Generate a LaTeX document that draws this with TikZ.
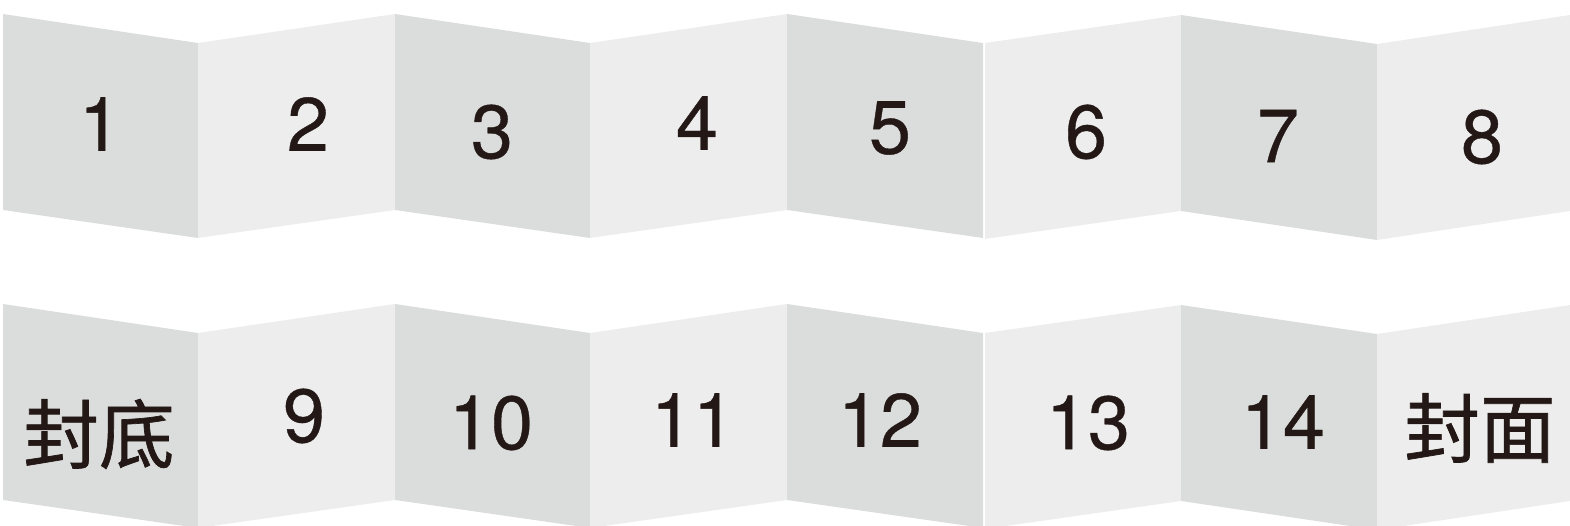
\documentclass[tikz,border=0pt]{standalone}
\usepackage{fontspec}
\setmainfont{TeX Gyre Heros}[FakeBold=0.5]
\newfontfamily\cjkfont{Noto Sans CJK SC}[FakeBold=0.9]
\usepackage{xcolor}
\definecolor{pagedark}{RGB}{219,221,220}
\definecolor{pagelight}{RGB}{237,237,237}
\definecolor{inkblack}{RGB}{35,24,21}
\tikzset{
  darkpage/.style={fill=pagedark, draw=none},
  lightpage/.style={fill=pagelight, draw=none},
  pagenum/.style={text=inkblack, inner sep=0pt, anchor=center,
                  font=\fontsize{43}{50}\selectfont}
}

\begin{document}
\begin{tikzpicture}[x=0.02cm, y=-0.02cm]
  \useasboundingbox (0,0) rectangle (1570,526);
  % upper strip
  \fill[darkpage]  (3,14)    -- (198,43)  -- (198,238)  -- (3,210)    -- cycle;
  \fill[lightpage] (198,43)  -- (395,14)  -- (395,210)  -- (198,238)  -- cycle;
  \fill[darkpage]  (395,14)  -- (590,43)  -- (590,238)  -- (395,210)  -- cycle;
  \fill[lightpage] (590,43)  -- (787,14)  -- (787,210)  -- (590,238)  -- cycle;
  \fill[darkpage]  (787,14)  -- (983,43)  -- (983,238)  -- (787,210)  -- cycle;
  \fill[lightpage] (985,43)  -- (1181,15) -- (1181,211) -- (985,239)  -- cycle;
  \fill[darkpage]  (1181,15) -- (1377,44) -- (1377,240) -- (1181,211) -- cycle;
  \fill[lightpage] (1377,44) -- (1570,15) -- (1570,211) -- (1377,240) -- cycle;
  % lower strip
  \fill[darkpage]  (3,304)    -- (198,333)  -- (198,528)  -- (3,500)    -- cycle;
  \fill[lightpage] (198,333)  -- (395,304)  -- (395,500)  -- (198,528)  -- cycle;
  \fill[darkpage]  (395,304)  -- (590,333)  -- (590,528)  -- (395,500)  -- cycle;
  \fill[lightpage] (590,333)  -- (787,304)  -- (787,500)  -- (590,528)  -- cycle;
  \fill[darkpage]  (787,304)  -- (983,333)  -- (983,528)  -- (787,500)  -- cycle;
  \fill[lightpage] (985,333)  -- (1181,305) -- (1181,501) -- (985,529)  -- cycle;
  \fill[darkpage]  (1181,305) -- (1377,334) -- (1377,530) -- (1181,501) -- cycle;
  \fill[lightpage] (1377,334) -- (1570,305) -- (1570,501) -- (1377,530) -- cycle;

  % page labels
  \node[pagenum] (p1)  at (100,124)  {1};
  \node[pagenum] (p2)  at (308,124)  {2};
  \node[pagenum] (p3)  at (492,132)  {3};
  \node[pagenum] (p4)  at (697,123)  {4};
  \node[pagenum] (p5)  at (890,128)  {5};
  \node[pagenum] (p6)  at (1086,132) {6};
  \node[pagenum] (p7)  at (1278,136) {7};
  \node[pagenum] (p8)  at (1482,137) {8};
  \node[pagenum] (back)  at (99,434)   {\cjkfont 封底};
  \node[pagenum] (p9)  at (304,416)  {9};
  \node[pagenum] (p10) at (491,423)  {10};
  \node[pagenum] (p11) at (693,420)  {11};
  \node[pagenum] (p12) at (880,420)  {12};
  \node[pagenum] (p13) at (1088,423) {13};
  \node[pagenum] (p14) at (1283,422) {14};
  \node[pagenum] (front) at (1480,428) {\cjkfont 封面};
\end{tikzpicture}
\end{document}
